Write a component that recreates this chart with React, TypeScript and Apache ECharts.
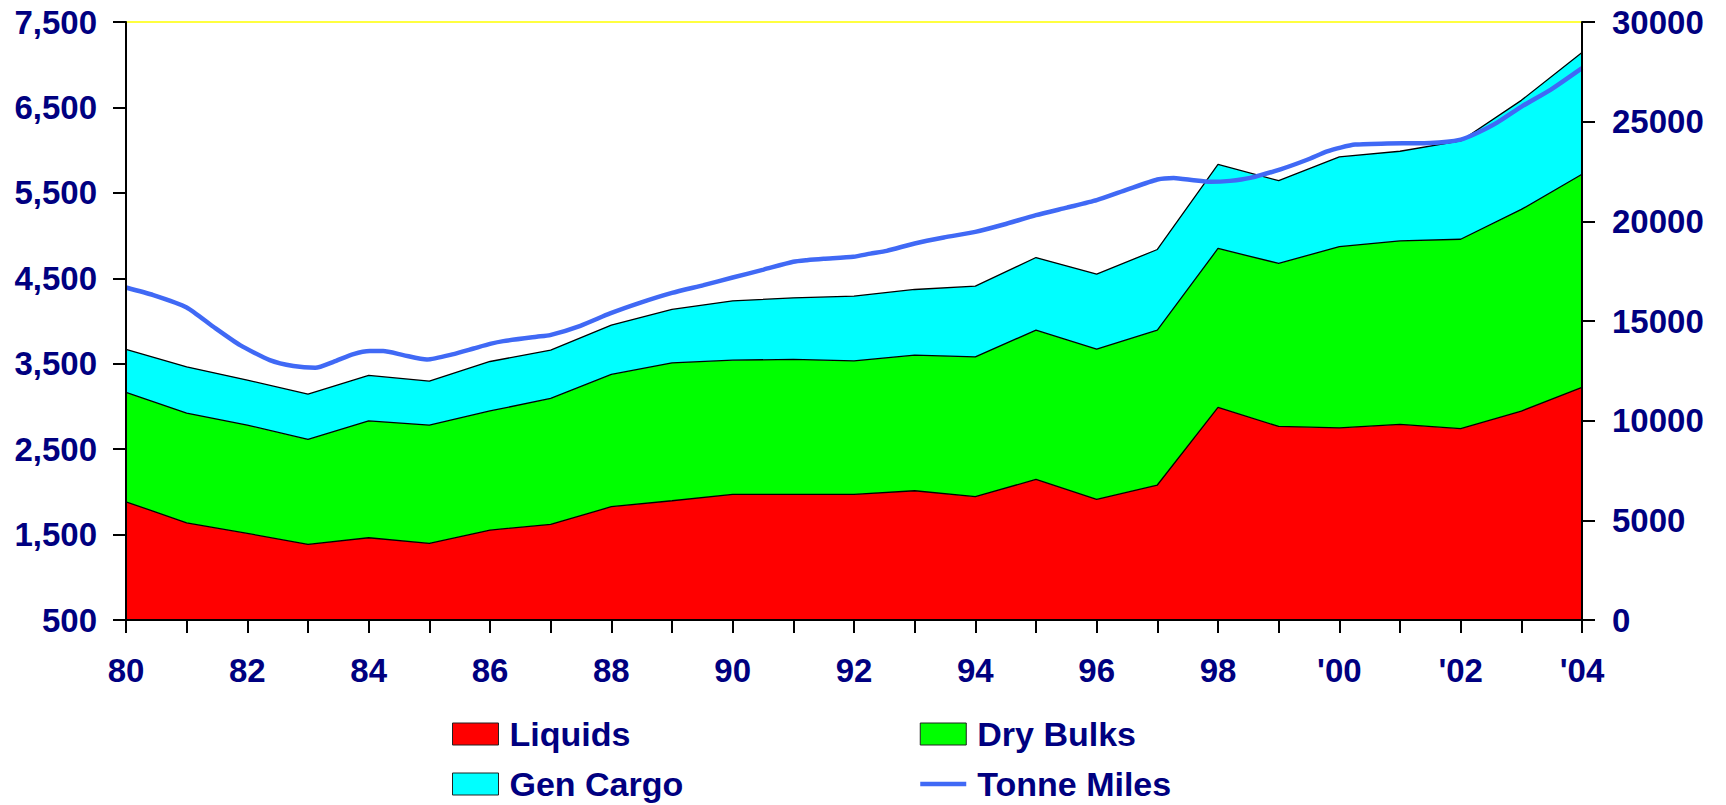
import React, { useEffect, useRef } from "react";
import * as echarts from "echarts";

const years = [1980, 1981, 1982, 1983, 1984, 1985, 1986, 1987, 1988, 1989, 1990, 1991, 1992, 1993, 1994, 1995, 1996, 1997, 1998, 1999, 2000, 2001, 2002, 2003, 2004];
const xTickLabels = ["80", "82", "84", "86", "88", "90", "92", "94", "96", "98", "'00", "'02", "'04"];
const leftTicks = [500, 1500, 2500, 3500, 4500, 5500, 6500, 7500];

const liquids = [1884, 1638, 1514, 1386, 1463, 1397, 1553, 1620, 1826, 1896, 1971, 1971, 1971, 2013, 1943, 2146, 1912, 2080, 2989, 2766, 2748, 2789, 2740, 2946, 3223];
const dryBulks = [1280, 1284, 1268, 1228, 1369, 1385, 1394, 1474, 1549, 1614, 1571, 1579, 1563, 1587, 1638, 1747, 1759, 1813, 1860, 1908, 2123, 2150, 2217, 2360, 2495];
const genCargo = [503, 542, 526, 530, 531, 514, 579, 565, 577, 625, 694, 721, 757, 769, 827, 850, 877, 944, 983, 968, 1049, 1048, 1151, 1277, 1424];

const tonneMilesYears = [1980.0, 1980.45, 1981.0, 1981.44, 1981.88, 1982.37, 1982.76, 1983.12, 1983.42, 1983.75, 1984.02, 1984.24, 1984.57, 1984.96, 1985.4, 1985.73, 1986.0, 1986.22, 1986.77, 1986.99, 1987.49, 1987.98, 1988.47, 1989.0, 1989.52, 1990.0, 1990.51, 1991.0, 1991.22, 1991.5, 1991.99, 1992.27, 1992.54, 1993.0, 1993.48, 1994.0, 1994.47, 1995.0, 1995.51, 1996.0, 1996.5, 1997.0, 1997.27, 1997.6, 1997.87, 1998.2, 1998.53, 1999.03, 1999.47, 1999.8, 2000.02, 2000.26, 2000.79, 2001.5, 2002.0, 2002.27, 2002.6, 2003.01, 2003.48, 2004.0];
const tonneMiles = [16680, 16300, 15680, 14710, 13790, 13040, 12740, 12650, 12950, 13340, 13490, 13490, 13290, 13070, 13340, 13620, 13850, 13990, 14210, 14290, 14760, 15380, 15910, 16410, 16800, 17180, 17580, 17970, 18050, 18120, 18220, 18380, 18520, 18890, 19190, 19470, 19840, 20310, 20690, 21060, 21590, 22100, 22180, 22060, 21980, 22030, 22180, 22610, 23090, 23510, 23700, 23850, 23910, 23930, 24100, 24430, 24950, 25770, 26600, 27690];

const NAVY = "#000080";
const FONT = "'Liberation Sans', Arial, Helvetica, sans-serif";
const LINE_BLUE = "#4069f5";

export default function App() {
  const ref = useRef<HTMLDivElement>(null);

  useEffect(() => {
    if (!ref.current) return;
    const chart = echarts.init(ref.current, undefined, { renderer: "svg" });

    const labelStyle = { color: NAVY, fontFamily: FONT, fontWeight: "bold" as const, fontSize: 33 };
    const axisLine = { show: true, lineStyle: { color: "#000", width: 2 } };
    const axisTick = { show: true, length: 13, lineStyle: { color: "#000", width: 2 } };

    const areaSeries = (name: string, values: number[], color: string) => ({
      name,
      type: "line",
      stack: "total",
      xAxisIndex: 0,
      yAxisIndex: 0,
      symbol: "none",
      data: values,
      lineStyle: { color: "#000", width: 1.3 },
      itemStyle: { color },
      areaStyle: { color, opacity: 1 },
      z: 2,
    });

    const legendText = {
      color: NAVY,
      fontFamily: FONT,
      fontWeight: "bold" as const,
      fontSize: 34,
      lineHeight: 34,
      padding: [0, 0, 0, 6],
    };
    const boxStyle = { borderColor: "#222", borderWidth: 1 };

    chart.setOption({
      animation: false,
      backgroundColor: "#fff",
      grid: { left: 126, right: 144, top: 22, bottom: 185, containLabel: false },
      xAxis: [
        {
          type: "category",
          data: years.map(String),
          boundaryGap: false,
          position: "bottom",
          axisLine,
          axisTick: { ...axisTick, interval: 0 },
          splitLine: { show: false },
          z: 10,
          axisLabel: {
            ...labelStyle,
            margin: 34,
            interval: 0,
            formatter: (_v: string, i: number) => (i % 2 === 0 ? xTickLabels[i / 2] : ""),
          },
        },
        {
          type: "value",
          min: 1980,
          max: 2004,
          position: "top",
          axisLine: { show: true, lineStyle: { color: "#ffff00", width: 1.5 } },
          axisTick: { show: false },
          axisLabel: { show: false },
          splitLine: { show: false },
          z: 1,
        },
      ],
      yAxis: [
        {
          type: "value",
          min: 500,
          max: 7500,
          position: "left",
          axisLine,
          axisTick: { ...axisTick, customValues: leftTicks },
          splitLine: { show: false },
          z: 10,
          axisLabel: {
            ...labelStyle,
            margin: 29,
            customValues: leftTicks,
            formatter: (v: number) => v.toLocaleString("en-US"),
          },
        },
        {
          type: "value",
          min: 0,
          max: 30000,
          interval: 5000,
          position: "right",
          axisLine,
          axisTick,
          splitLine: { show: false },
          z: 10,
          axisLabel: { ...labelStyle, margin: 30, formatter: (v: number) => String(v) },
        },
      ],
      legend: [
        {
          orient: "vertical",
          left: 452,
          top: 717,
          height: 120,
          padding: 0,
          itemWidth: 46,
          itemHeight: 22,
          itemGap: 16,
          textStyle: legendText,
          selectedMode: false,
          data: [
            { name: "Liquids", icon: "rect", itemStyle: boxStyle },
            { name: "Gen Cargo", icon: "rect", itemStyle: boxStyle },
          ],
        },
        {
          orient: "vertical",
          left: 918,
          top: 717,
          height: 120,
          padding: 0,
          itemWidth: 46,
          itemHeight: 22,
          itemGap: 16,
          textStyle: legendText,
          selectedMode: false,
          data: [
            { name: "Dry Bulks", icon: "rect", itemStyle: boxStyle },
            { name: "Tonne Miles", icon: "line", itemStyle: { borderColor: LINE_BLUE, borderWidth: 4.5 } },
          ],
        },
      ],
      series: [
        areaSeries("Liquids", liquids, "#ff0000"),
        areaSeries("Dry Bulks", dryBulks, "#00ff00"),
        areaSeries("Gen Cargo", genCargo, "#00ffff"),
        {
          name: "Tonne Miles",
          type: "line",
          xAxisIndex: 1,
          yAxisIndex: 1,
          symbol: "none",
          smooth: 0.2,
          data: tonneMilesYears.map((t, i) => [t, tonneMiles[i]]),
          lineStyle: { color: LINE_BLUE, width: 4.5 },
          itemStyle: { color: LINE_BLUE },
          z: 5,
        },
      ],
    });

    return () => chart.dispose();
  }, []);

  return (
    <div
      ref={ref}
      style={{ position: "absolute", left: 0, top: 0, width: 1726, height: 805 }}
    />
  );
}
